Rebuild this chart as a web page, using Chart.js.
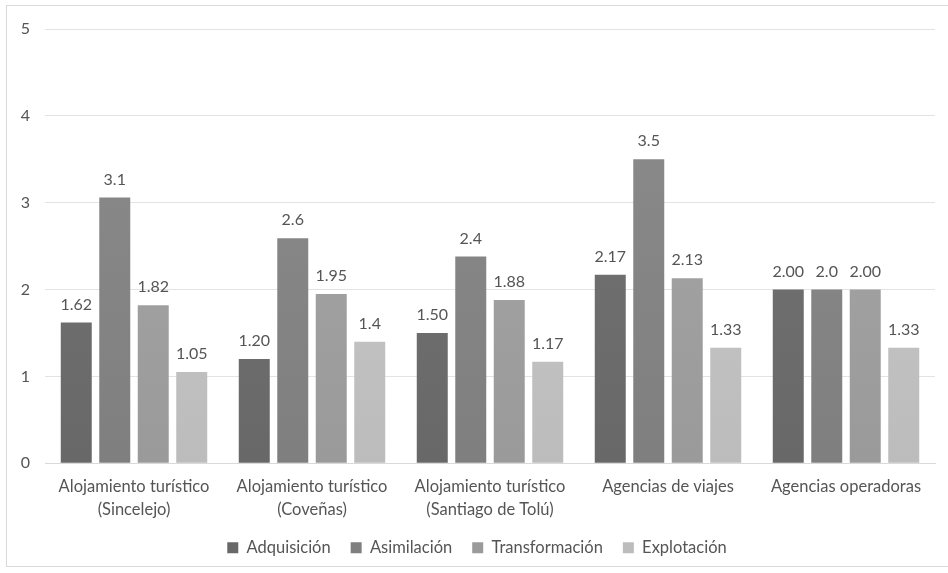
<!DOCTYPE html>
<html>
<head>
<meta charset="utf-8">
<script src="https://cdn.jsdelivr.net/npm/chart.js@4/dist/chart.umd.min.js"></script>
<style>
  html, body { margin: 0; padding: 0; background: #fff; }
  #wrap { position: relative; width: 948px; height: 573px; overflow: hidden; }
  #frame { position: absolute; left: 6px; top: 5px; width: 960px; height: 560px; border: 1px solid #d9d9d9; }
  #chart { position: absolute; left: 0; top: 0; }
</style>
</head>
<body>
<div id="wrap">
  <div id="frame"></div>
  <canvas id="chart" width="948" height="573"></canvas>
</div>
<script>
// categories (two-line tick labels)
const categories = [
    ['Alojamiento turístico', '(Sincelejo)'],
    ['Alojamiento turístico', '(Coveñas)'],
    ['Alojamiento turístico', '(Santiago de Tolú)'],
    ['Agencias de viajes'],
    ['Agencias operadoras']
];
const seriesNames = ['Adquisición', 'Asimilación', 'Transformación', 'Explotación'];

// bar heights
const adquisicion = [1.62, 1.20, 1.50, 2.17, 2.00];
const asimilacion = [3.06, 2.59, 2.38, 3.50, 2.00];
const transformacion = [1.82, 1.95, 1.88, 2.13, 2.00];
const explotacion = [1.05, 1.40, 1.17, 1.33, 1.33];

// value labels printed above the bars
const adquisicionLabels = ['1.62', '1.20', '1.50', '2.17', '2.00'];
const asimilacionLabels = ['3.1', '2.6', '2.4', '3.5', '2.0'];
const transformacionLabels = ['1.82', '1.95', '1.88', '2.13', '2.00'];
const explotacionLabels = ['1.05', '1.4', '1.17', '1.33', '1.33'];

const yTicks = [0, 1, 2, 3, 4, 5];

// top / bottom shades of each series
const shades = [
    ['#767676', '#686868'],
    ['#8c8c8c', '#7f7f7f'],
    ['#a8a8a8', '#9a9a9a'],
    ['#cbcbcb', '#bcbcbc']
];

const FONT = 'Lato, "Open Sans", sans-serif';
const TEXT = '#555555';

function gradientFor(i) {
    return (ctx) => {
        const area = ctx.chart.chartArea;
        if (!area) return shades[i][0];
        const g = ctx.chart.ctx.createLinearGradient(0, area.top, 0, area.bottom);
        g.addColorStop(0, shades[i][0]);
        g.addColorStop(1, shades[i][1]);
        return g;
    };
}

const values = [adquisicion, asimilacion, transformacion, explotacion];
const valueLabels = [adquisicionLabels, asimilacionLabels, transformacionLabels, explotacionLabels];

const barLabels = {
    id: 'barLabels',
    afterDatasetsDraw(chart) {
        const ctx = chart.ctx;
        ctx.save();
        ctx.font = '16px ' + FONT;
        ctx.fillStyle = TEXT;
        ctx.textAlign = 'center';
        ctx.textBaseline = 'alphabetic';
        chart.data.datasets.forEach((ds, i) => {
            chart.getDatasetMeta(i).data.forEach((bar, j) => {
                ctx.fillText(valueLabels[i][j], bar.x, bar.y - 13);
            });
        });
        ctx.restore();
    }
};

new Chart(document.getElementById('chart'), {
    type: 'bar',
    data: {
        labels: categories,
        datasets: seriesNames.map((name, i) => ({
            label: name,
            data: values[i],
            backgroundColor: gradientFor(i),
            borderWidth: 0,
            categoryPercentage: 0.865,
            barPercentage: 0.805
        }))
    },
    options: {
        responsive: false,
        animation: false,
        layout: { padding: { top: 29, right: 13, bottom: 7, left: 19 } },
        plugins: {
            tooltip: { enabled: false },
            legend: {
                position: 'bottom',
                labels: {
                    font: { family: FONT, size: 16.5 },
                    color: TEXT,
                    boxWidth: 11,
                    boxHeight: 11,
                    padding: 20,
                    generateLabels: (chart) => seriesNames.map((name, i) => ({
                        text: name,
                        fillStyle: shades[i][1],
                        strokeStyle: shades[i][1],
                        lineWidth: 0,
                        fontColor: TEXT,
                        datasetIndex: i
                    }))
                }
            }
        },
        scales: {
            x: {
                afterFit: (scale) => { scale.height -= 6; },
                grid: { display: false },
                border: { color: '#d9d9d9' },
                ticks: {
                    font: { family: FONT, size: 16.5, lineHeight: 1.4 },
                    color: TEXT,
                    padding: 4,
                    maxRotation: 0,
                    autoSkip: false
                }
            },
            y: {
                min: yTicks[0],
                max: yTicks[yTicks.length - 1],
                afterFit: (scale) => { scale.width = 26; },
                afterBuildTicks: (scale) => { scale.ticks = yTicks.map(v => ({ value: v })); },
                grid: { color: '#e3e3e3', drawTicks: false },
                border: { display: false },
                ticks: {
                    font: { family: FONT, size: 16 },
                    color: TEXT,
                    padding: 15
                }
            }
        }
    },
    plugins: [barLabels]
});
</script>
</body>
</html>
